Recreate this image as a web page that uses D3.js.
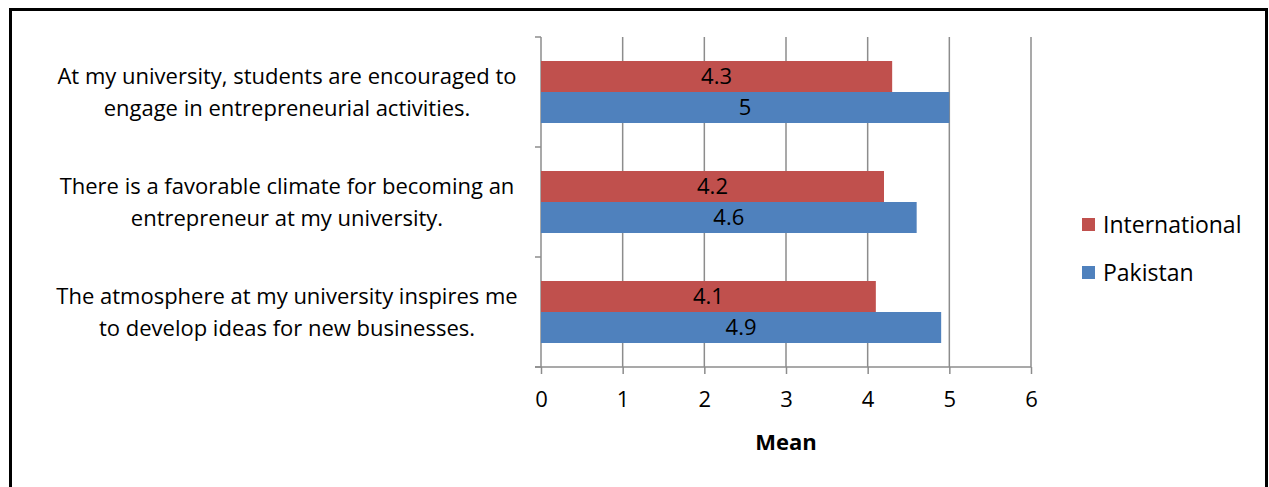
<!DOCTYPE html>
<html>
<head>
<meta charset="utf-8">
<script src="https://cdn.jsdelivr.net/npm/d3@7"></script>
<style>
  html, body { margin: 0; padding: 0; background: #fff; }
  svg { display: block; }
  text { font-family: "Open Sans", "Noto Sans", sans-serif; fill: #000; }
</style>
</head>
<body>
<svg id="chart" width="1269" height="487"></svg>
<script>
// Survey statements (top to bottom) and mean scores per group
const statements = [
  ["At my university, students are encouraged to", "engage in entrepreneurial activities."],
  ["There is a favorable climate for becoming an", "entrepreneur at my university."],
  ["The atmosphere at my university inspires me", "to develop ideas for new businesses."]
];
const seriesNames = ["International", "Pakistan"];
const internationalMeans = [4.3, 4.2, 4.1];
const pakistanMeans = [5, 4.6, 4.9];
const xTicks = [0, 1, 2, 3, 4, 5, 6];
const axisTitle = "Mean";
const colors = { International: "#C0504D", Pakistan: "#4F81BD" };

const FONT = "'Open Sans', 'Noto Sans', sans-serif";
const FS = 22;
const svg = d3.select("#chart");

// Outer frame
svg.append("rect")
  .attr("x", 10.5).attr("y", 9.5)
  .attr("width", 1256).attr("height", 490)
  .attr("fill", "none").attr("stroke", "#000").attr("stroke-width", 3);

const plot = { left: 541, right: 1031, top: 37, bottom: 367 };

const x = d3.scaleLinear().domain([0, 6]).range([plot.left, plot.right]);
const y = d3.scaleBand()
  .domain(d3.range(statements.length))
  .range([plot.top, plot.bottom]);
const inner = d3.scaleBand()
  .domain(seriesNames)
  .range([0, y.bandwidth()])
  .paddingOuter(0.774)
  .paddingInner(0);

// Vertical gridlines
svg.append("g")
  .selectAll("line")
  .data(xTicks.slice(1))
  .join("line")
  .attr("x1", d => x(d)).attr("x2", d => x(d))
  .attr("y1", plot.top).attr("y2", plot.bottom)
  .attr("stroke", "#8c8c8c").attr("stroke-width", 1.5);

// Bottom axis
const xAxis = svg.append("g")
  .attr("transform", `translate(0,${plot.bottom})`)
  .call(d3.axisBottom(x).tickValues(xTicks).tickFormat(d3.format("d"))
    .tickSize(7).tickSizeOuter(0).tickPadding(17));
xAxis.select(".domain").remove();
xAxis.append("line")
  .attr("x1", plot.left - 6).attr("x2", plot.right)
  .attr("stroke", "#8c8c8c").attr("stroke-width", 1.5);
xAxis.selectAll(".tick line").attr("stroke", "#8c8c8c").attr("stroke-width", 1.5);
xAxis.selectAll(".tick text")
  .attr("font-size", FS).attr("font-family", FONT).attr("fill", "#000");

// Left axis with category boundary ticks
const yBounds = d3.range(statements.length + 1).map(i => plot.top + i * y.step());
svg.append("line")
  .attr("x1", plot.left).attr("x2", plot.left)
  .attr("y1", plot.top).attr("y2", plot.bottom)
  .attr("stroke", "#8c8c8c").attr("stroke-width", 1.5);
svg.append("g")
  .selectAll("line")
  .data(yBounds)
  .join("line")
  .attr("x1", plot.left - 6).attr("x2", plot.left)
  .attr("y1", d => d).attr("y2", d => d)
  .attr("stroke", "#8c8c8c").attr("stroke-width", 1.5);

// Category labels (two lines, centred block to the left of the axis)
const labels = svg.append("g")
  .selectAll("text")
  .data(statements)
  .join("text")
  .attr("text-anchor", "middle")
  .attr("font-size", FS)
  .attr("y", (d, i) => y(i) + y.bandwidth() / 2);
labels.each(function(d) {
  const t = d3.select(this);
  d.forEach((line, j) => {
    t.append("tspan")
      .attr("x", 287)
      .attr("dy", j === 0 ? -8.5 : 32)
      .text(line);
  });
});

// Bars
const rows = statements.map((s, i) => ({
  i,
  values: [
    { name: "International", value: internationalMeans[i] },
    { name: "Pakistan", value: pakistanMeans[i] }
  ]
}));

const groups = svg.append("g")
  .selectAll("g")
  .data(rows)
  .join("g")
  .attr("transform", d => `translate(0,${y(d.i)})`);

groups.selectAll("rect")
  .data(d => d.values)
  .join("rect")
  .attr("x", x(0))
  .attr("y", d => inner(d.name))
  .attr("width", d => x(d.value) - x(0))
  .attr("height", inner.bandwidth())
  .attr("fill", d => colors[d.name]);

groups.selectAll("text")
  .data(d => d.values)
  .join("text")
  .attr("x", d => (x(0) + x(d.value)) / 2)
  .attr("y", d => inner(d.name) + inner.bandwidth() / 2)
  .attr("dy", "0.36em")
  .attr("text-anchor", "middle")
  .attr("font-size", FS)
  .text(d => d.value);

// Axis title
svg.append("text")
  .attr("x", x(3))
  .attr("y", 450)
  .attr("text-anchor", "middle")
  .attr("font-size", FS)
  .attr("font-weight", "bold")
  .text(axisTitle);

// Legend
const legend = svg.append("g")
  .selectAll("g")
  .data(seriesNames)
  .join("g")
  .attr("transform", (d, i) => `translate(1082,${218 + i * 48})`);
legend.append("rect")
  .attr("width", 13).attr("height", 13)
  .attr("fill", d => colors[d]);
legend.append("text")
  .attr("x", 21).attr("y", 7)
  .attr("dy", "0.36em")
  .attr("font-size", 23)
  .text(d => d);
</script>
</body>
</html>
